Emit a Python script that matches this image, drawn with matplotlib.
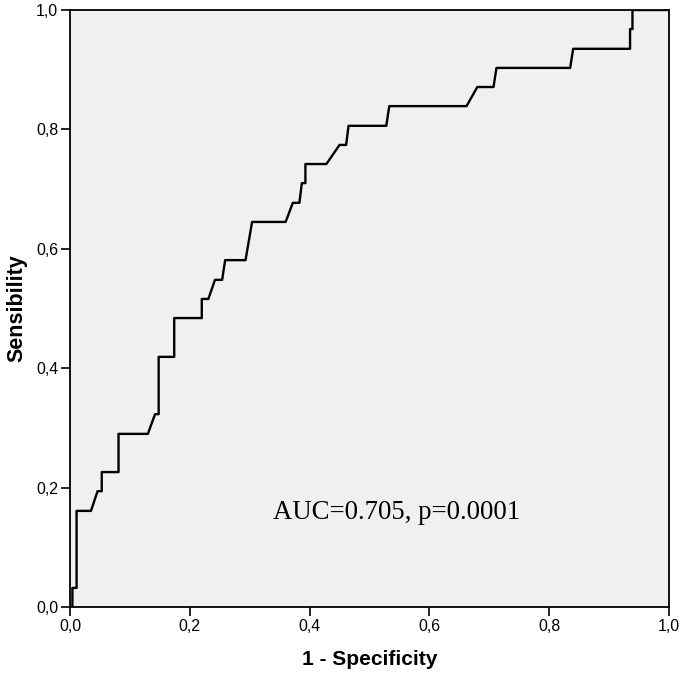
import matplotlib
matplotlib.use("Agg")
import matplotlib.pyplot as plt

# ROC curve points (1 - specificity, sensitivity)
fpr = [0.0, 0.004, 0.004, 0.011, 0.011, 0.035, 0.046, 0.053, 0.053, 0.081,
       0.081, 0.130, 0.142, 0.148, 0.148, 0.174, 0.174, 0.220, 0.220, 0.231,
       0.242, 0.254, 0.259, 0.293, 0.304, 0.360, 0.372, 0.383, 0.387, 0.393,
       0.393, 0.428, 0.450, 0.461, 0.465, 0.528, 0.533, 0.662, 0.680, 0.707,
       0.712, 0.835, 0.840, 0.935, 0.935, 0.939, 0.939, 1.0]
tpr = [0.0, 0.0, 0.032, 0.032, 0.161, 0.161, 0.194, 0.194, 0.226, 0.226,
       0.290, 0.290, 0.323, 0.323, 0.419, 0.419, 0.484, 0.484, 0.516, 0.516,
       0.548, 0.548, 0.581, 0.581, 0.645, 0.645, 0.677, 0.677, 0.710, 0.710,
       0.742, 0.742, 0.774, 0.774, 0.806, 0.806, 0.839, 0.839, 0.871, 0.871,
       0.903, 0.903, 0.935, 0.935, 0.968, 0.968, 1.0, 1.0]

ticks = [0.0, 0.2, 0.4, 0.6, 0.8, 1.0]
tick_labels = ["0,0", "0,2", "0,4", "0,6", "0,8", "1,0"]

plt.rcParams['font.family'] = ['Liberation Sans', 'DejaVu Sans']

fig = plt.figure(figsize=(6.85, 6.8), dpi=100)
ax = fig.add_axes([70 / 685, 1 - 607 / 680, 599 / 685, 597 / 680])
ax.set_facecolor("#f0f0f0")

ax.plot(fpr, tpr, color="black", linewidth=1.7)

ax.set_xlim(0, 1)
ax.set_ylim(0, 1)
ax.set_xticks(ticks)
ax.set_xticklabels(tick_labels)
ax.set_yticks(ticks)
ax.set_yticklabels(tick_labels)
ax.tick_params(direction="out", length=6.5, width=1.2, labelsize=11.5, colors="black", pad=2)
for s in ax.spines.values():
    s.set_linewidth(1.3)

ax.set_xlabel("1 - Specificity", fontsize=15, fontweight="bold", labelpad=12)
ax.set_ylabel("Sensibility", fontsize=15.5, fontweight="bold", labelpad=6)

ax.text(0.546, 0.158, "AUC=0.705, p=0.0001", fontsize=19.3, ha="center", va="center",
        family=["Liberation Serif", "DejaVu Serif"])

fig.savefig("out.png", dpi=100)
